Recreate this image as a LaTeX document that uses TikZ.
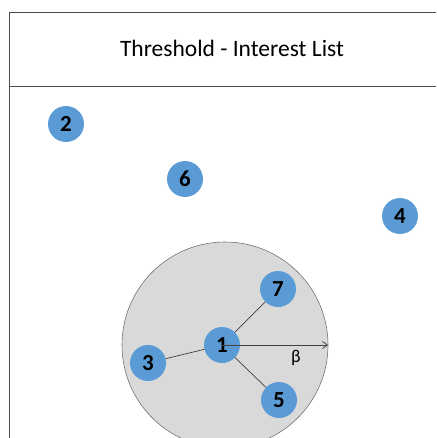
\documentclass[tikz,border=0pt]{standalone}
\usepackage{fontspec}
\setmainfont{Carlito}
\usetikzlibrary{arrows.meta}
\definecolor{nodeblue}{HTML}{5B9BD5}
\definecolor{zonegray}{HTML}{D9D9D9}
\tikzset{
  peer/.style={circle, fill=nodeblue, minimum size=36pt, inner sep=0pt, font=\fontsize{23}{23}\selectfont\bfseries},
  link/.style={draw=black!75, line width=0.7pt},
  frameline/.style={draw=black!70, line width=0.8pt}
}
\begin{document}
\begin{tikzpicture}[x=1pt,y=-1pt]
\useasboundingbox (0,0) rectangle (436,438);
\begin{scope}
\clip (0,0) rectangle (436,438);
\fill[zonegray, draw=black!55, line width=0.6pt] (225,345) circle (103);
\end{scope}
\draw[frameline] (9,12) -- (436,12);
\draw[frameline] (9,86) -- (436,86);
\draw[frameline] (9,12) -- (9,438);
\node[font=\fontsize{23.5}{23.5}\selectfont] (title) at (232,48) {Threshold - Interest List};
\node[peer] (n2) at (66,124) {2};
\node[peer] (n6) at (185,179) {6};
\node[peer] (n4) at (400,216) {4};
\node[peer] (n7) at (278,289) {7};
\node[peer] (n3) at (148,363) {3};
\node[peer] (n5) at (279,400) {5};
\coordinate (rim) at (328,345);
\draw[link] (n3) -- (222,345);
\draw[link] (222,345) -- (n7);
\draw[link] (222,345) -- (n5);
\node[peer] (n1) at (222,345) {1};
\draw[link, -{Straight Barb[length=5pt,width=7pt]}] (n1.center) -- (rim);
\node[font=\fontsize{18}{18}\selectfont] (beta) at (296,358) {β};
\end{tikzpicture}
\end{document}
